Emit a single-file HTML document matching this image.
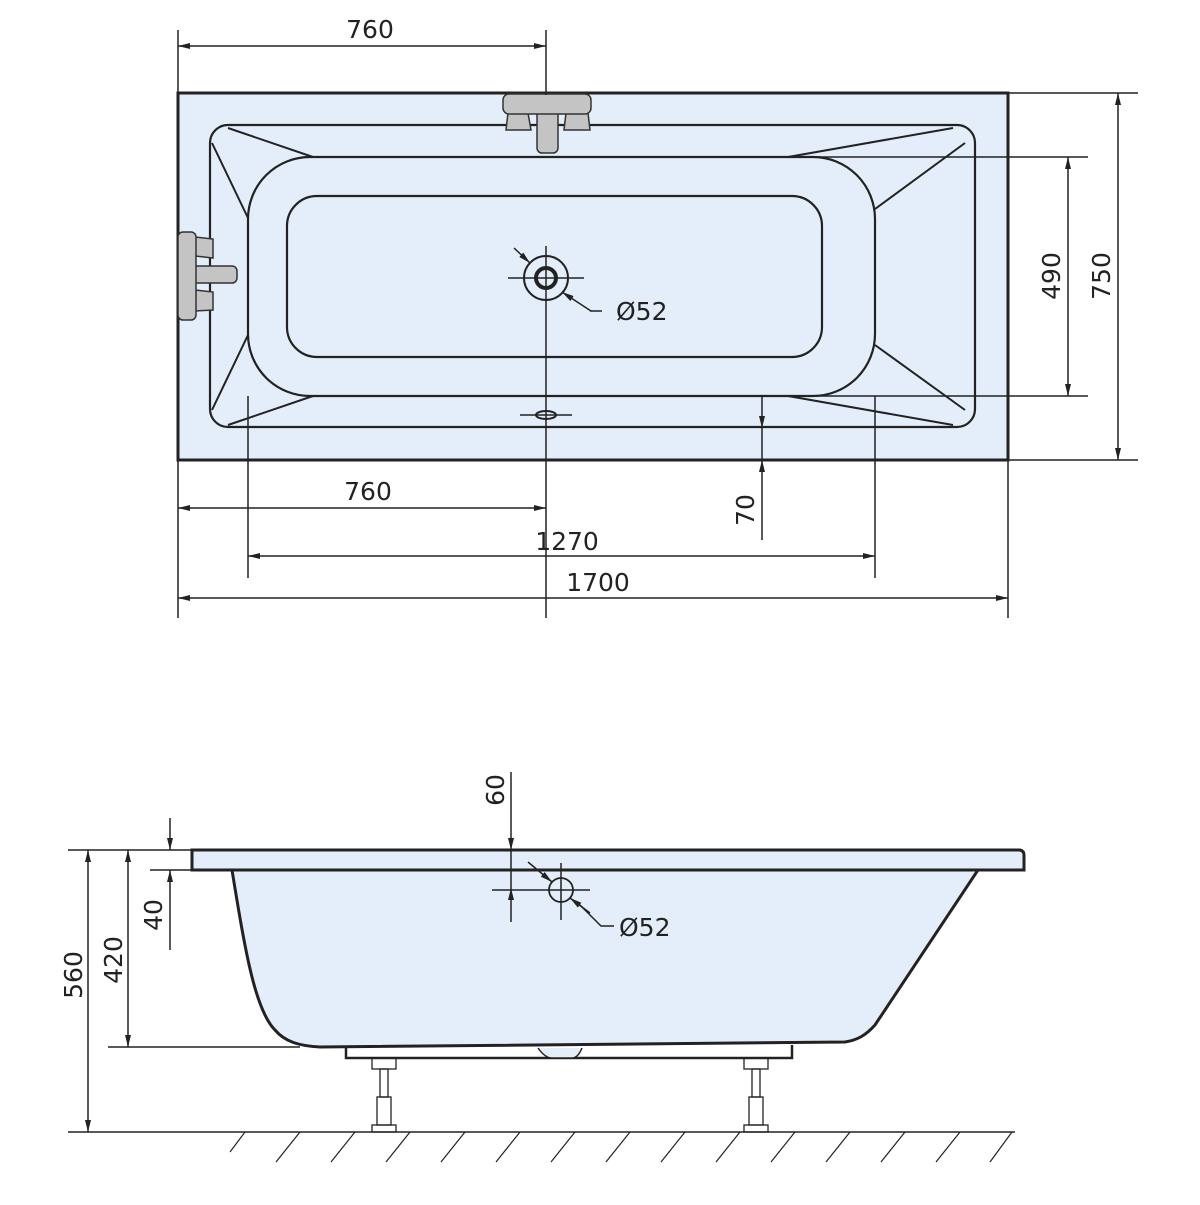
<!DOCTYPE html>
<html><head><meta charset="utf-8"><style>
html,body{margin:0;padding:0;background:#fff}
svg text{font-family:"DejaVu Sans","Liberation Sans",sans-serif;font-size:25px;fill:#222}
</style></head><body>
<svg width="1200" height="1200" viewBox="0 0 1200 1200" xmlns="http://www.w3.org/2000/svg">
<defs>
<marker id="a" viewBox="0 0 12 6" refX="12" refY="3" markerWidth="12" markerHeight="6" markerUnits="userSpaceOnUse" orient="auto-start-reverse"><path d="M0,0 L12,3 L0,6 z" fill="#222"/></marker>
</defs>
<g stroke="#222" fill="none" stroke-width="1.5">
<!-- TOP VIEW -->
<rect x="178" y="93" width="830" height="367" fill="#e4eefa" stroke-width="3"/>
<rect x="210" y="125" width="765" height="302" rx="18" stroke-width="2.2"/>
<rect x="248" y="157" width="627" height="239" rx="62" stroke-width="2.2"/>
<rect x="287" y="196" width="535" height="161" rx="30" stroke-width="2.2"/>
<g stroke-width="2">
<line x1="228" y1="128" x2="313" y2="157"/><line x1="212" y1="143" x2="248" y2="218"/>
<line x1="212" y1="410" x2="248" y2="335"/><line x1="228" y1="425" x2="313" y2="396"/>
<line x1="953" y1="128" x2="788" y2="157"/><line x1="965" y1="143" x2="875" y2="209"/>
<line x1="965" y1="410" x2="875" y2="345"/><line x1="953" y1="425" x2="788" y2="396"/>
</g>
<!-- taps -->
<g fill="#c4c4c4" stroke="#333" stroke-width="1.5">
<path d="M508,113 L528,113 L531,130 L506,130 z"/><path d="M566,113 L588,113 L590,130 L564,130 z"/>
<rect x="537" y="105" width="21" height="48" rx="5"/>
<rect x="503" y="94" width="88" height="20" rx="6"/>
<path d="M195,237 L213,239 L213,258 L195,256 z"/><path d="M195,290 L213,292 L213,310 L195,311 z"/>
<rect x="190" y="266" width="47" height="17" rx="5"/>
<rect x="178" y="232" width="18" height="88" rx="5"/>
</g>
<!-- drain -->
<circle cx="546" cy="278" r="22" stroke-width="2"/>
<circle cx="546" cy="278" r="10" stroke-width="4"/>
<line x1="508" y1="278" x2="584" y2="278"/>
<line x1="546" y1="246" x2="546" y2="618"/>
<line x1="514" y1="248" x2="530" y2="263" marker-end="url(#a)"/>
<line x1="591" y1="311" x2="562" y2="292" marker-end="url(#a)"/>
<polyline points="590,311 602,311"/>
<ellipse cx="546" cy="415" rx="10" ry="4" stroke-width="2"/>
<line x1="520" y1="415" x2="572" y2="415"/>
<!-- dims top -->
<line x1="178" y1="30" x2="178" y2="93"/><line x1="546" y1="30" x2="546" y2="95"/>
<line x1="178" y1="46" x2="546" y2="46" marker-start="url(#a)" marker-end="url(#a)"/>
<line x1="795" y1="157" x2="1088" y2="157"/><line x1="795" y1="396" x2="1088" y2="396"/>
<line x1="1068" y1="157" x2="1068" y2="396" marker-start="url(#a)" marker-end="url(#a)"/>
<line x1="1008" y1="93" x2="1138" y2="93"/><line x1="1008" y1="460" x2="1138" y2="460"/>
<line x1="1118" y1="93" x2="1118" y2="460" marker-start="url(#a)" marker-end="url(#a)"/>
<line x1="178" y1="460" x2="178" y2="618"/><line x1="1008" y1="460" x2="1008" y2="618"/>
<line x1="248" y1="396" x2="248" y2="578"/><line x1="875" y1="396" x2="875" y2="578"/>
<line x1="178" y1="508" x2="546" y2="508" marker-start="url(#a)" marker-end="url(#a)"/>
<line x1="248" y1="556" x2="875" y2="556" marker-start="url(#a)" marker-end="url(#a)"/>
<line x1="178" y1="598" x2="1008" y2="598" marker-start="url(#a)" marker-end="url(#a)"/>
<line x1="762" y1="396" x2="762" y2="428" marker-end="url(#a)"/>
<line x1="762" y1="540" x2="762" y2="460" marker-end="url(#a)"/>
<line x1="762" y1="428" x2="762" y2="460"/>
<!-- SIDE VIEW -->
<path d="M232,870 C245,950 255,1010 275,1030 C285,1042 300,1046 320,1047 L845,1042 C858,1040 866,1035 875,1025 L978,870 z" fill="#e4eefa" stroke-width="3"/>
<path d="M192,850 L1020,850 Q1024,851 1024,855 L1024,870 L192,870 z" fill="#e4eefa" stroke-width="3"/>
<path d="M346,1047 L346,1058 L792,1058 L792,1045" stroke-width="2.5"/>
<path d="M538,1048 Q545,1058 552,1058 L572,1058 Q578,1058 582,1048" fill="#e4eefa"/>
<g stroke-width="1.3">
<rect x="372" y="1058" width="24" height="11"/><rect x="380" y="1069" width="8" height="28"/><rect x="377" y="1097" width="14" height="28"/><rect x="372" y="1125" width="24" height="7"/>
<rect x="744" y="1058" width="24" height="11"/><rect x="752" y="1069" width="8" height="28"/><rect x="749" y="1097" width="14" height="28"/><rect x="744" y="1125" width="24" height="7"/>
</g>
<line x1="68" y1="1132" x2="1015" y2="1132"/>
<g stroke-width="1.2">
<line x1="245" y1="1132" x2="230" y2="1152"/><line x1="300" y1="1132" x2="276" y2="1162"/><line x1="355" y1="1132" x2="331" y2="1162"/><line x1="410" y1="1132" x2="386" y2="1162"/><line x1="465" y1="1132" x2="441" y2="1162"/><line x1="520" y1="1132" x2="496" y2="1162"/><line x1="575" y1="1132" x2="551" y2="1162"/><line x1="630" y1="1132" x2="606" y2="1162"/><line x1="685" y1="1132" x2="661" y2="1162"/><line x1="740" y1="1132" x2="716" y2="1162"/><line x1="795" y1="1132" x2="771" y2="1162"/><line x1="850" y1="1132" x2="826" y2="1162"/><line x1="905" y1="1132" x2="881" y2="1162"/><line x1="960" y1="1132" x2="936" y2="1162"/><line x1="1012" y1="1132" x2="990" y2="1162"/>
</g>
<line x1="68" y1="850" x2="192" y2="850"/><line x1="150" y1="870" x2="192" y2="870"/><line x1="108" y1="1047" x2="300" y2="1047"/>
<line x1="88" y1="850" x2="88" y2="1132" marker-start="url(#a)" marker-end="url(#a)"/>
<line x1="128" y1="850" x2="128" y2="1047" marker-start="url(#a)" marker-end="url(#a)"/>
<line x1="170" y1="818" x2="170" y2="850" marker-end="url(#a)"/>
<line x1="170" y1="950" x2="170" y2="870" marker-end="url(#a)"/>
<line x1="511" y1="772" x2="511" y2="850" marker-end="url(#a)"/>
<line x1="511" y1="922" x2="511" y2="888" marker-end="url(#a)"/>
<line x1="511" y1="850" x2="511" y2="888"/>
<circle cx="561" cy="890" r="12" stroke-width="1.8"/>
<line x1="492" y1="890" x2="590" y2="890"/><line x1="561" y1="863" x2="561" y2="920"/>
<line x1="528" y1="862" x2="552" y2="882" marker-end="url(#a)"/>
<polyline points="580,905 601,926 614,926"/>
<line x1="590" y1="913" x2="570" y2="898" marker-end="url(#a)"/>
</g>
<text x="370" y="38" text-anchor="middle">760</text>
<text x="368" y="500" text-anchor="middle">760</text>
<text x="567" y="550" text-anchor="middle">1270</text>
<text x="598" y="591" text-anchor="middle">1700</text>
<text x="616" y="320">Ø52</text>
<text x="619" y="936">Ø52</text>
<text transform="translate(1060,276) rotate(-90)" text-anchor="middle">490</text>
<text transform="translate(1110,276) rotate(-90)" text-anchor="middle">750</text>
<text transform="translate(754,510) rotate(-90)" text-anchor="middle">70</text>
<text transform="translate(504,790) rotate(-90)" text-anchor="middle">60</text>
<text transform="translate(162,915) rotate(-90)" text-anchor="middle">40</text>
<text transform="translate(122,960) rotate(-90)" text-anchor="middle">420</text>
<text transform="translate(82,975) rotate(-90)" text-anchor="middle">560</text>
</svg>
</body></html>
